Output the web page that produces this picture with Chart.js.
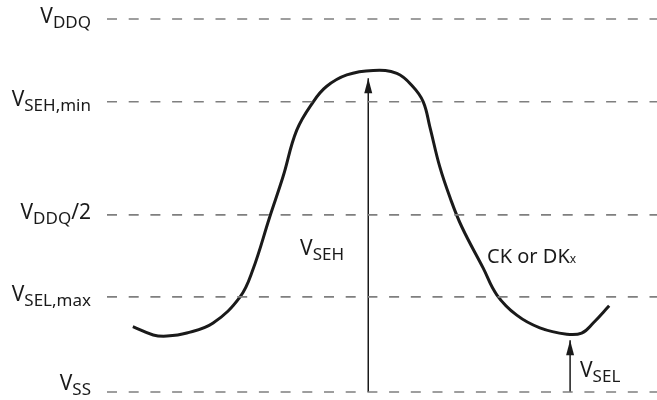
<!DOCTYPE html>
<html>
<head>
<meta charset="utf-8">
<script src="https://cdn.jsdelivr.net/npm/chart.js"></script>
<style>
  html, body { margin: 0; padding: 0; background: #fff; }
  #wrap { width: 657px; height: 400px; position: relative; }
</style>
</head>
<body>
<div id="wrap"><canvas id="chart"></canvas></div>
<script>
// reference levels, V_SS = 0 .. V_DDQ = 100
const levelSubs = ['DDQ', 'SEH,min', 'DDQ', 'SEL,max', 'SS'];
const levelSuffix = ['', '', '/2', '', ''];
const levelValues = [100, 77.8, 47.5, 25.5, 0];

// CK or DKx waveform (time 0..100)
const waveT = [4.7, 8.4, 10.9, 14.5, 19.3, 24.2, 26.5, 29.6, 32.0, 34.5, 37.5, 39.9, 43.6, 48.4, 52.7, 55.6, 57.5, 58.7, 60.5, 62.4, 64.5, 68.4, 70.9, 74.5, 78.7, 83.6, 86.3, 88.4, 91.3];
const waveV = [17.5, 15.3, 15.0, 15.8, 18.5, 25.5, 32.7, 47.0, 57.7, 70.2, 77.8, 81.9, 85.0, 86.2, 85.4, 81.9, 77.8, 71.1, 60.4, 52.0, 44.3, 33.2, 26.0, 20.6, 17.2, 15.5, 15.8, 18.5, 23.1];

// arrows from V_SS up to the waveform
const arrowT = [47.5, 84.2];
const arrowTop = [84.1, 13.9];

// text inside the plot
const noteMain = ['V', 'CK or DK', 'V'];
const noteSub = ['SEH', 'x', 'SEL'];
const noteT = [35.1, 69.1, 86.0];
const noteV = [36.7, 34.6, 4.1];

const FONT = "'Noto Sans', 'Open Sans', sans-serif";
const INK = '#1a1a1a';

const datasets = [];
levelValues.forEach((v, i) => {
  datasets.push({
    label: 'level' + i,
    data: [{ x: 0, y: v }, { x: 100, y: v }],
    showLine: true, borderColor: '#7f7f7f', borderWidth: 1.6,
    borderDash: [10, 11.7], pointRadius: 0
  });
});
datasets.push({
  label: 'wave',
  data: waveT.map((t, i) => ({ x: t, y: waveV[i] })),
  showLine: true, borderColor: INK, borderWidth: 3, tension: 0.4,
  pointRadius: 0
});
arrowT.forEach((t, i) => {
  datasets.push({
    label: 'arrow' + i, isArrow: true,
    data: [{ x: t, y: 0 }, { x: t, y: arrowTop[i] }],
    showLine: true, borderColor: INK, borderWidth: 1.5, pointRadius: 0
  });
});

function drawSub(ctx, x, y, main, sub, suffix, bigSize, subSize, subDy) {
  ctx.font = bigSize + 'px ' + FONT;
  ctx.fillText(main, x, y);
  let w = ctx.measureText(main).width;
  ctx.font = subSize + 'px ' + FONT;
  ctx.fillText(sub, x + w, y + subDy);
  w += ctx.measureText(sub).width;
  if (suffix) {
    ctx.font = bigSize + 'px ' + FONT;
    ctx.fillText(suffix, x + w, y);
  }
}

const overlay = {
  id: 'overlay',
  afterDatasetsDraw(chart) {
    const ctx = chart.ctx;
    const sx = chart.scales.x, sy = chart.scales.y;
    ctx.save();
    ctx.fillStyle = INK;
    ctx.textBaseline = 'alphabetic';
    // arrowheads
    chart.data.datasets.forEach((ds, i) => {
      if (!ds.isArrow) return;
      const tip = chart.getDatasetMeta(i).data[1];
      ctx.beginPath();
      ctx.moveTo(tip.x, tip.y);
      ctx.lineTo(tip.x - 4, tip.y + 15);
      ctx.lineTo(tip.x + 4, tip.y + 15);
      ctx.closePath();
      ctx.fill();
    });
    // level labels, right aligned left of the plot
    const right = chart.chartArea.left - 16;
    levelValues.forEach((v, i) => {
      const y = sy.getPixelForValue(v);
      const base = i === levelValues.length - 1 ? y - 2 : y + 4;
      ctx.font = '21px ' + FONT;
      let w = ctx.measureText('V').width + ctx.measureText(levelSuffix[i]).width;
      ctx.font = '17px ' + FONT;
      w += ctx.measureText(levelSubs[i]).width;
      drawSub(ctx, right - w, base, 'V', levelSubs[i], levelSuffix[i], 21, 17, 5);
    });
    // notes inside the plot
    noteMain.forEach((m, i) => {
      const x = sx.getPixelForValue(noteT[i]);
      const y = sy.getPixelForValue(noteV[i]);
      if (m === 'V') drawSub(ctx, x, y, m, noteSub[i], '', 21, 17, 5);
      else drawSub(ctx, x, y, m, noteSub[i], '', 20, 12, 0);
    });
    ctx.restore();
  }
};

new Chart(document.getElementById('chart'), {
  type: 'scatter',
  data: { datasets },
  options: {
    responsive: true, maintainAspectRatio: false, animation: false,
    layout: { padding: { left: 107, right: 0, top: 19, bottom: 8 } },
    clip: false,
    plugins: { legend: { display: false }, tooltip: { enabled: false } },
    scales: {
      x: { type: 'linear', min: 0, max: 100, display: false },
      y: { type: 'linear', min: 0, max: 100, display: false }
    }
  },
  plugins: [overlay]
});
</script>
</body>
</html>
